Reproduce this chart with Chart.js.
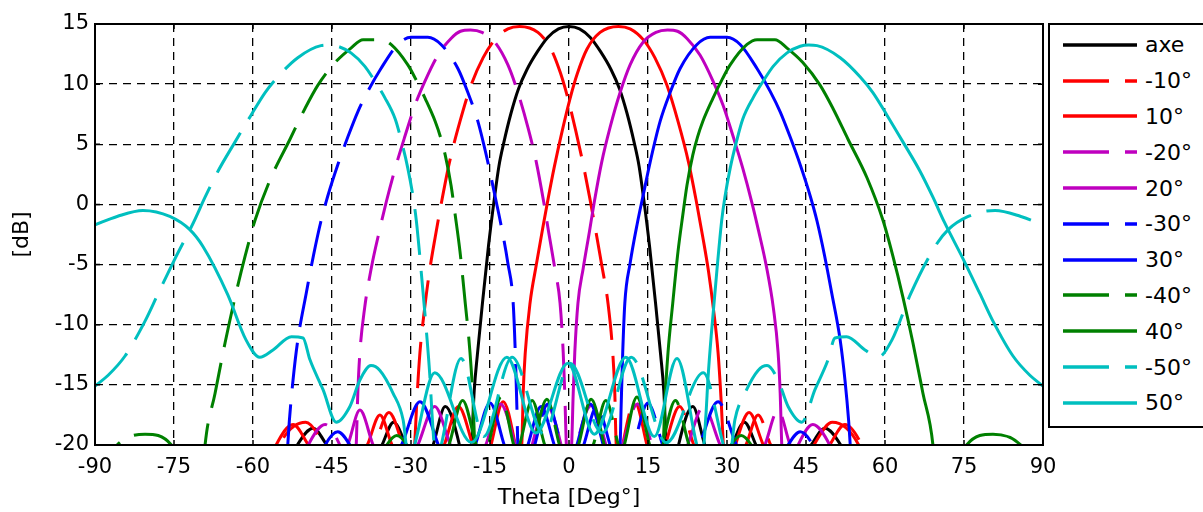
<!DOCTYPE html>
<html>
<head>
<meta charset="utf-8">
<script src="https://cdn.jsdelivr.net/npm/chart.js@4.4.1/dist/chart.umd.min.js"></script>
<style>
  html, body { margin: 0; padding: 0; background: #fff; }
  #wrap { position: relative; width: 1203px; height: 512px; overflow: hidden; }
  #legend {
    position: absolute; left: 1048px; top: 23px; width: 170px; height: 399px;
    border: 2px solid #000; background: #fff; padding-top: 2px; box-sizing: content-box;
    font-family: "DejaVu Sans", sans-serif; font-size: 22px; color: #000;
  }
  .row { height: 35.8px; display: flex; align-items: center; }
  .row svg { margin-left: 13px; margin-right: 8px; flex: none; }
</style>
</head>
<body>
<div id="wrap">
  <canvas id="chart" width="1203" height="512"></canvas>
  <div id="legend"></div>
</div>
<script>
// axes
const xTicks = [-90, -75, -60, -45, -30, -15, 0, 15, 30, 45, 60, 75, 90];
const yTicks = [-20, -15, -10, -5, 0, 5, 10, 15];

// [theta (deg), gain (dB)], les valeurs sous -20 sortent de l'axe
const axe = [[-90,-30],[-56,-24],[-51.6,-20],[-48.6,-18.6],[-46,-20],[-40,-24],[-35.5,-20],[-33.3,-18.1],[-31,-20],[-28.5,-23],[-25.8,-20],[-23.5,-16.8],[-20.8,-20],[-19.6,-23],[-18.5,-20],[-18,-15.5],[-17.4,-12.5],[-16.5,-8.5],[-15.3,-3.5],[-14.2,0.4],[-13.3,3.2],[-12.4,5.1],[-11,7.6],[-9.6,9.6],[-8,11.2],[-6,12.7],[-4,13.9],[-2,14.6],[0,14.8],[2,14.6],[4,13.9],[6,12.7],[8,11.2],[9.6,9.6],[11,7.6],[12.4,5.1],[13.3,3.2],[14.2,0.4],[15.3,-3.5],[16.5,-8.5],[17.4,-12.5],[18,-15.5],[18.5,-20],[19.6,-23],[20.8,-20],[23.5,-16.8],[25.8,-20],[28.5,-23],[31,-20],[33.3,-18.1],[35.5,-20],[40,-24],[46,-20],[48.6,-18.6],[51.6,-20],[56,-24],[90,-30]];

const beamM10 = [[-90,-30],[-58,-24],[-55,-20],[-50,-18.1],[-46.5,-20],[-42,-24],[-36.9,-20],[-34.2,-17.3],[-31.6,-20],[-29.8,-23],[-29.3,-20],[-28.9,-16.4],[-28.3,-12.3],[-27.4,-8.6],[-26.5,-5.6],[-25.4,-2.7],[-24.2,0.2],[-22.7,3.5],[-20.7,6.9],[-18.6,9.9],[-16.3,12.2],[-14.1,13.7],[-11.6,14.6],[-9.4,14.8],[-5.9,14.3],[-3.4,12.9],[-1.6,10.9],[-0.2,8.8],[1.3,6.1],[2.8,3.1],[4,0.4],[5,-2],[6.2,-5],[7.4,-8.2],[8.3,-12.3],[8.7,-15.7],[8.9,-19.3],[9.5,-22],[10.2,-20],[12.5,-16.4],[14.8,-20],[16.5,-23],[18.3,-20],[21,-16.8],[23.7,-20],[28,-24],[33.6,-20],[35.9,-17.5],[38.3,-20],[44,-24],[49.5,-20],[52.4,-18.3],[55.6,-20],[60,-25],[90,-30]];

const beam10 = [[-90,-30],[-60,-25],[-55.6,-20],[-52.4,-18.3],[-49.5,-20],[-44,-24],[-38.3,-20],[-35.9,-17.5],[-33.6,-20],[-28,-24],[-23.7,-20],[-21,-16.8],[-18.3,-20],[-16.5,-23],[-14.8,-20],[-12.5,-16.4],[-10.2,-20],[-9.5,-22],[-8.9,-19.3],[-8.7,-15.7],[-8.3,-12.3],[-7.4,-8.2],[-6.2,-5],[-5,-2],[-4,0.4],[-2.8,3.1],[-1.3,6.1],[0.2,8.8],[1.6,10.9],[3.4,12.9],[5.9,14.3],[9.4,14.8],[11.6,14.6],[14.1,13.7],[16.3,12.2],[18.6,9.9],[20.7,6.9],[22.7,3.5],[24.2,0.2],[25.4,-2.7],[26.5,-5.6],[27.4,-8.6],[28.3,-12.3],[28.9,-16.4],[29.3,-20],[29.8,-23],[31.6,-20],[34.2,-17.3],[36.9,-20],[42,-24],[46.5,-20],[50,-18.1],[55,-20],[58,-24],[90,-30]];

const beamM20 = [[-90,-30],[-53,-24],[-49.5,-20],[-46.3,-18.3],[-43.5,-20],[-41,-23],[-40.4,-20],[-40.1,-15.7],[-39.7,-12.3],[-38.8,-8.6],[-37.5,-5.2],[-36,-2.2],[-34.7,0.2],[-33,3],[-31.2,5.6],[-29.2,8.3],[-27.3,10.3],[-24.9,12.4],[-22.4,13.8],[-20.6,14.4],[-18.7,14.5],[-16.5,14.3],[-14.1,13.5],[-11.6,11.6],[-9.7,9.3],[-7.8,6.4],[-6.2,3.5],[-4.8,0.2],[-3.9,-2.2],[-2.7,-5.3],[-1.7,-8.2],[-1.1,-12.3],[-0.8,-15.7],[-0.5,-20],[0.3,-23],[1.5,-20],[4.3,-16.7],[7,-20],[8.5,-23],[10.2,-20],[13,-16.6],[15.8,-20],[19,-23],[22.5,-20],[25.5,-16.8],[28.7,-20],[33,-24],[37.2,-20],[39.7,-17.1],[42,-20],[48,-25],[90,-30]];

const beam20 = [[-90,-30],[-48,-25],[-42,-20],[-39.7,-17.1],[-37.2,-20],[-33,-24],[-28.7,-20],[-25.5,-16.8],[-22.5,-20],[-19,-23],[-15.8,-20],[-13,-16.6],[-10.2,-20],[-8.5,-23],[-7,-20],[-4.3,-16.7],[-1.5,-20],[-0.3,-23],[0.5,-20],[0.8,-15.7],[1.1,-12.3],[1.7,-8.2],[2.7,-5.3],[3.9,-2.2],[4.8,0.2],[6.2,3.5],[7.8,6.4],[9.7,9.3],[11.6,11.6],[14.1,13.5],[16.5,14.3],[18.7,14.5],[20.6,14.4],[22.4,13.8],[24.9,12.4],[27.3,10.3],[29.2,8.3],[31.2,5.6],[33,3],[34.7,0.2],[36,-2.2],[37.5,-5.2],[38.8,-8.6],[39.7,-12.3],[40.1,-15.7],[40.4,-20],[41,-23],[43.5,-20],[46.3,-18.3],[49.5,-20],[53,-24],[90,-30]];

const beamM30 = [[-90,-30],[-53.9,-23],[-53.4,-20],[-53.1,-18],[-52.4,-14.6],[-51.5,-11.3],[-49.9,-7.4],[-48.5,-4.2],[-47.1,-1.4],[-45.8,0.7],[-43.9,3.3],[-42,5.6],[-40.1,7.7],[-38.2,9.4],[-35.7,11.3],[-32.5,13.3],[-30,13.9],[-26.8,13.9],[-24.3,13.3],[-21.1,11.3],[-19.2,9.3],[-17.3,6.9],[-15.4,3.5],[-14.1,0.8],[-13,-1.5],[-11.6,-4.9],[-10.6,-8.2],[-10.2,-12.3],[-9.9,-16.8],[-9.7,-20],[-8.2,-23],[-6.5,-20],[-4,-16.6],[-1.5,-20],[0.5,-23],[2.8,-20],[5.3,-16.8],[7.8,-20],[10,-23],[12.3,-20],[15,-16.5],[17.8,-20],[21.5,-24],[24.8,-20],[28.3,-16.4],[31.8,-20],[37,-24],[41.6,-20],[43.9,-18.9],[46.3,-20],[50,-24],[90,-30]];

const beam30 = [[-90,-30],[-50,-24],[-46.3,-20],[-43.9,-18.9],[-41.6,-20],[-37,-24],[-31.8,-20],[-28.3,-16.4],[-24.8,-20],[-21.5,-24],[-17.8,-20],[-15,-16.5],[-12.3,-20],[-10,-23],[-7.8,-20],[-5.3,-16.8],[-2.8,-20],[-0.5,-23],[1.5,-20],[4,-16.6],[6.5,-20],[8.2,-23],[9.7,-20],[9.9,-16.8],[10.2,-12.3],[10.6,-8.2],[11.6,-4.9],[13,-1.5],[14.1,0.8],[15.4,3.5],[17.3,6.9],[19.2,9.3],[21.1,11.3],[24.3,13.3],[26.8,13.9],[30,13.9],[32.5,13.3],[35.7,11.3],[38.2,9.4],[40.1,7.7],[42,5.6],[43.9,3.3],[45.8,0.7],[47.1,-1.4],[48.5,-4.2],[49.9,-7.4],[51.5,-11.3],[52.4,-14.6],[53.1,-18],[53.4,-20],[53.9,-23],[90,-30]];

const beamM40 = [[-90,-23],[-85.8,-20],[-80.5,-19.1],[-75.5,-20],[-72,-24],[-69.6,-23],[-69.1,-20],[-67.2,-15.7],[-65.3,-11.5],[-63.4,-7.7],[-61.5,-4.3],[-59.6,-1.3],[-56.6,2.2],[-53,5.4],[-50.1,8],[-47.7,9.9],[-44.4,11.8],[-41.4,13],[-39.1,13.7],[-35.7,13.7],[-33.8,13.3],[-30.6,11.6],[-29.2,10.5],[-27.3,8.8],[-25.4,6.9],[-24.4,5.6],[-23.5,4.1],[-22.4,1.6],[-21.6,-0.9],[-20.7,-3.9],[-19.7,-8.2],[-18.8,-12.3],[-18.2,-16.5],[-17.9,-20],[-17.3,-23],[-15.3,-20],[-12.9,-16],[-10.5,-20],[-8.3,-23],[-6.7,-20],[-4.2,-16.2],[-1.8,-20],[0.5,-23],[4.6,-20],[7,-16.3],[9.4,-20],[13.5,-24],[17.6,-20],[20.2,-16.3],[22.8,-20],[27,-24],[30.8,-20],[32.7,-19.2],[34.6,-20],[40,-25],[90,-30]];

const beam40 = [[-90,-30],[-40,-25],[-34.6,-20],[-32.7,-19.2],[-30.8,-20],[-27,-24],[-22.8,-20],[-20.2,-16.3],[-17.6,-20],[-13.5,-24],[-9.4,-20],[-7,-16.3],[-4.6,-20],[-0.5,-23],[1.8,-20],[4.2,-16.2],[6.7,-20],[8.3,-23],[10.5,-20],[12.9,-16],[15.3,-20],[17.3,-23],[17.9,-20],[18.2,-16.5],[18.8,-12.3],[19.7,-8.2],[20.7,-3.9],[21.6,-0.9],[22.4,1.6],[23.5,4.1],[24.4,5.6],[25.4,6.9],[27.3,8.8],[29.2,10.5],[30.6,11.6],[33.8,13.3],[35.7,13.7],[39.1,13.7],[41.4,13],[44.4,11.8],[47.7,9.9],[50.1,8],[53,5.4],[56.6,2.2],[59.6,-1.3],[61.5,-4.3],[63.4,-7.7],[65.3,-11.5],[67.2,-15.7],[69.1,-20],[69.6,-23],[72,-24],[75.5,-20],[80.5,-19.1],[85.8,-20],[90,-23]];

const beamM50 = [[-90,-15.1],[-87.5,-14.2],[-84.3,-12.6],[-80.5,-9.7],[-78,-7.4],[-74.8,-4.5],[-71.3,-1.5],[-69.1,0.6],[-66.6,2.8],[-63.4,5.2],[-60.4,7.4],[-57.7,9.3],[-55.3,10.6],[-51.5,12.2],[-47.1,13.2],[-45.5,13.25],[-43.9,13.15],[-41.4,12.6],[-38.8,11.5],[-36.8,10.2],[-35,8.9],[-33,7.1],[-31.9,5.4],[-30.6,3],[-29.6,0.6],[-29,-1.3],[-28.1,-5.4],[-27.1,-10.4],[-26.4,-14.4],[-26,-17.5],[-25.3,-21],[-20.5,-12.8],[-16.2,-19.3],[-10.8,-12.7],[-4.8,-19.1],[0.2,-13.2],[6.3,-19],[11.8,-12.7],[18.5,-19.8],[25.5,-14],[30.5,-21],[31.5,-17.9],[33.4,-15.7],[35.9,-13.8],[37.6,-13.4],[39.7,-14.6],[41.6,-16.8],[44.2,-18.1],[46.7,-15.4],[49.2,-12.9],[50.5,-11.1],[52.7,-11],[56.2,-12.1],[58.7,-12.7],[61.4,-11.2],[64.8,-7.5],[69.5,-3.5],[72,-2.1],[75.8,-1],[80.9,-0.5],[85.8,-1],[90,-1.7]];

const beam50 = [[-90,-1.7],[-85.8,-1],[-80.9,-0.5],[-75.8,-1],[-72,-2.1],[-69.5,-3.5],[-64.8,-7.5],[-61.4,-11.2],[-58.7,-12.7],[-56.2,-12.1],[-52.7,-11],[-50.5,-11.1],[-49.2,-12.9],[-46.7,-15.4],[-44.2,-18.1],[-41.6,-16.8],[-39.7,-14.6],[-37.6,-13.4],[-35.9,-13.8],[-33.4,-15.7],[-31.5,-17.9],[-30.5,-21],[-25.5,-14],[-18.5,-19.8],[-11.8,-12.7],[-6.3,-19],[-0.2,-13.2],[4.8,-19.1],[10.8,-12.7],[16.2,-19.3],[20.5,-12.8],[25.3,-21],[26,-17.5],[26.4,-14.4],[27.1,-10.4],[28.1,-5.4],[29,-1.3],[29.6,0.6],[30.6,3],[31.9,5.4],[33,7.1],[35,8.9],[36.8,10.2],[38.8,11.5],[41.4,12.6],[43.9,13.15],[45.5,13.25],[47.1,13.2],[51.5,12.2],[55.3,10.6],[57.7,9.3],[60.4,7.4],[63.4,5.2],[66.6,2.8],[69.1,0.6],[71.3,-1.5],[74.8,-4.5],[78,-7.4],[80.5,-9.7],[84.3,-12.6],[87.5,-14.2],[90,-15.1]];

const seriesLabels = ["axe", "-10°", "10°", "-20°", "20°", "-30°", "30°", "-40°", "40°", "-50°", "50°"];
const seriesData = [axe, beamM10, beam10, beamM20, beam20, beamM30, beam30, beamM40, beam40, beamM50, beam50];
const seriesColors = ["#000000", "#ff0000", "#ff0000", "#bf00bf", "#bf00bf", "#0000ff", "#0000ff", "#008000", "#008000", "#00bfbf", "#00bfbf"];
const seriesDashed = [false, true, false, true, false, true, false, true, false, true, false];

const DASH = [46, 16];
const FONT = "DejaVu Sans";

// cadre + petites graduations vers l'intérieur
const framePlugin = {
    id: "frame",
    afterDatasetsDraw(chart) {
        const { ctx, chartArea: a, scales } = chart;
        ctx.save();
        ctx.strokeStyle = "#000";
        ctx.lineWidth = 1.5;
        ctx.beginPath();
        xTicks.forEach(v => {
            const px = scales.x.getPixelForValue(v);
            ctx.moveTo(px, a.bottom); ctx.lineTo(px, a.bottom - 5);
            ctx.moveTo(px, a.top); ctx.lineTo(px, a.top + 5);
        });
        yTicks.forEach(v => {
            const py = scales.y.getPixelForValue(v);
            ctx.moveTo(a.left, py); ctx.lineTo(a.left + 5, py);
            ctx.moveTo(a.right, py); ctx.lineTo(a.right - 5, py);
        });
        ctx.stroke();
        ctx.lineWidth = 2;
        ctx.strokeRect(a.left, a.top, a.right - a.left, a.bottom - a.top);
        ctx.restore();
    }
};

const datasets = seriesData.map((pts, i) => ({
    label: seriesLabels[i],
    data: pts.map(([t, g]) => ({ x: t, y: g })),
    borderColor: seriesColors[i],
    borderWidth: 3,
    borderDash: seriesDashed[i] ? DASH : [],
    pointRadius: 0,
    fill: false,
    cubicInterpolationMode: "monotone",
    clip: 0,
    order: seriesData.length - i
}));

const gridOpts = { color: "#000", lineWidth: 1.3, drawTicks: false, borderDash: [8, 6] };

new Chart(document.getElementById("chart"), {
    type: "line",
    data: { datasets },
    options: {
        responsive: false,
        animation: false,
        devicePixelRatio: 1,
        layout: { padding: { left: 0, right: 160, top: 24, bottom: 0 } },
        plugins: { legend: { display: false }, tooltip: { enabled: false } },
        scales: {
            x: {
                type: "linear", min: -90, max: 90,
                afterBuildTicks: s => { s.ticks = xTicks.map(v => ({ value: v })); },
                afterFit: s => { s.height = 67; },
                grid: gridOpts,
                border: { display: false, dash: [8, 6] },
                ticks: { color: "#000", font: { family: FONT, size: 21 }, padding: 10, maxRotation: 0, autoSkip: false },
                title: { display: true, text: "Theta [Deg°]", color: "#000", font: { family: FONT, size: 22 }, padding: { top: 0, bottom: 1 } }
            },
            y: {
                type: "linear", min: -20, max: 15,
                afterBuildTicks: s => { s.ticks = yTicks.map(v => ({ value: v })); },
                afterFit: s => { s.width = 95; },
                grid: gridOpts,
                border: { display: false, dash: [8, 6] },
                ticks: { color: "#000", font: { family: FONT, size: 21 }, padding: 6, autoSkip: false },
                title: { display: true, text: "[dB]", color: "#000", font: { family: FONT, size: 22 }, padding: { top: 9, bottom: 0 } }
            }
        }
    },
    plugins: [framePlugin]
});

// légende html
const legend = document.getElementById("legend");
seriesLabels.forEach((name, i) => {
    const row = document.createElement("div");
    row.className = "row";
    const dash = seriesDashed[i] ? ` stroke-dasharray="${DASH.join(" ")}"` : "";
    row.innerHTML = `<svg width="74" height="8"><line x1="0" y1="4" x2="74" y2="4" stroke="${seriesColors[i]}" stroke-width="3.5"${dash}/></svg><span>${name}</span>`;
    legend.appendChild(row);
});
</script>
</body>
</html>
